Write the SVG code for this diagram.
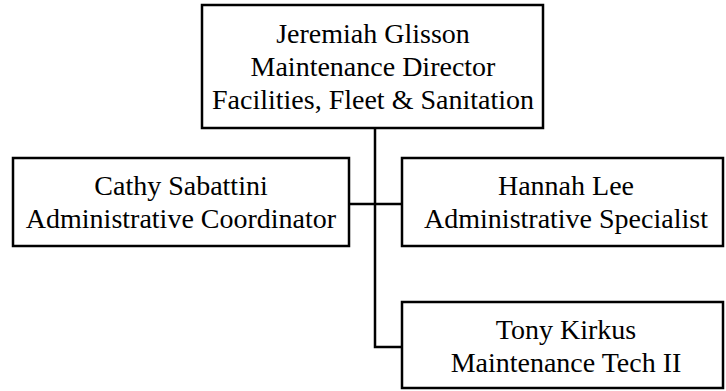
<svg xmlns="http://www.w3.org/2000/svg" width="726" height="391" viewBox="0 0 726 391">
<style>
.box{fill:#fff;stroke:#000;stroke-width:2.5}
.t{font-family:"Liberation Serif","Times New Roman",serif;font-size:28px;fill:#000;text-anchor:middle}
.c{fill:none;stroke:#000;stroke-width:2.5}
</style>
<rect width="726" height="391" fill="#fff"/>
<g id="connectors">
<path class="c" d="M375,128 V347 H402"/>
<path class="c" d="M349,204 H402"/>
</g>
<g id="jeremiah">
<rect class="box" x="202" y="5" width="341" height="123"/>
<text class="t" x="373" y="43">Jeremiah Glisson</text>
<text class="t" x="373" y="76">Maintenance Director</text>
<text class="t" x="373" y="109">Facilities, Fleet &amp; Sanitation</text>
</g>
<g id="cathy">
<rect class="box" x="13" y="158" width="336" height="88"/>
<text class="t" x="181" y="195">Cathy Sabattini</text>
<text class="t" x="181" y="228">Administrative Coordinator</text>
</g>
<g id="hannah">
<rect class="box" x="402" y="158" width="321" height="88"/>
<text class="t" x="566" y="195">Hannah Lee</text>
<text class="t" x="566" y="228">Administrative Specialist</text>
</g>
<g id="tony">
<rect class="box" x="402" y="302" width="321" height="86"/>
<text class="t" x="566" y="339">Tony Kirkus</text>
<text class="t" x="566" y="372">Maintenance Tech II</text>
</g>
</svg>
